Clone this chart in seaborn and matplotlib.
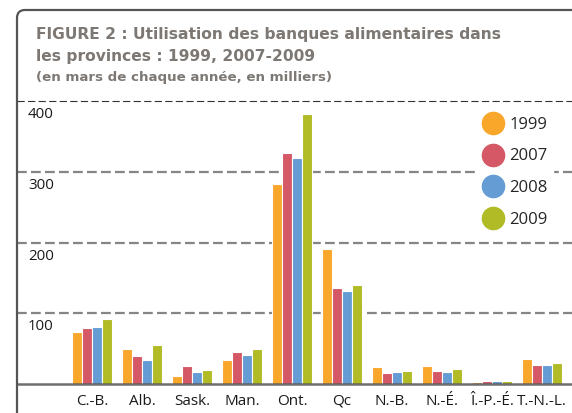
import matplotlib
matplotlib.use("Agg")
import matplotlib.pyplot as plt
from matplotlib.lines import Line2D
from matplotlib.path import Path
from matplotlib.patches import PathPatch
import seaborn as sns
import pandas as pd

provinces = ["C.-B.", "Alb.", "Sask.", "Man.", "Ont.", "Qc", "N.-B.", "N.-É.", "Î.-P.-É.", "T.-N.-L."]
years = ["1999", "2007", "2008", "2009"]
v1999 = [73.6, 50.0, 11.5, 34.4, 282.6, 190.8, 24.4, 25.8, 2.9, 35.9]
v2007 = [78.9, 40.0, 25.8, 45.9, 327.0, 136.0, 15.8, 18.6, 4.3, 27.3]
v2008 = [80.3, 34.4, 17.2, 41.6, 320.0, 131.0, 17.2, 17.2, 4.3, 27.3]
v2009 = [91.8, 54.5, 20.0, 48.8, 381.6, 140.6, 18.6, 21.5, 4.3, 30.1]
yticks = [100, 200, 300, 400]
colors = ["#F9A72A", "#D45866", "#659CD4", "#B0BB25"]

title1 = "FIGURE 2 : Utilisation des banques alimentaires dans"
title2 = "les provinces : 1999, 2007-2009"
subtitle = "(en mars de chaque année, en milliers)"

rows = []
for y, vals in zip(years, [v1999, v2007, v2008, v2009]):
    for p, v in zip(provinces, vals):
        rows.append({"province": p, "year": y, "value": v})
df = pd.DataFrame(rows)

sns.set_theme(style="white")
plt.rcParams["font.family"] = ["Open Sans", "DejaVu Sans"]

W, H = 572, 413
fig = plt.figure(figsize=(W / 100, H / 100), dpi=100)
ax = fig.add_axes([17 / W, (H - 384) / H, (W - 17) / W, (384 - 101) / H])

sns.barplot(data=df, x="province", y="value", hue="year", palette=colors,
            order=provinces, hue_order=years, width=0.8, ax=ax,
            edgecolor="white", linewidth=0.8, saturation=1, legend=False, zorder=2)

ax.set_xlim(-1.5, 9.6)
ax.set_ylim(0, 400)
for s in ax.spines.values():
    s.set_visible(False)
ax.set_xlabel("")
ax.set_ylabel("")
ax.set_yticks([])
ax.tick_params(axis="x", length=0, pad=7, labelsize=11, labelcolor="#1a1a1a")

for t in yticks:
    if t == 400:
        ax.axhline(t, color="#333333", lw=0.8, dashes=(6.5, 3), zorder=1, clip_on=False)
    else:
        ax.axhline(t, color="#858585", lw=1.6, dashes=(4.4, 1.9), zorder=1)
    ax.annotate(str(t), xy=(0.02, t), xycoords=("axes fraction", "data"),
                xytext=(0, -4.5), textcoords="offset points", va="top", ha="left",
                fontsize=10.8, color="#1a1a1a")
ax.axhline(0, color="#555555", lw=1.8, alpha=0.85, zorder=3, clip_on=False)

handles = [Line2D([0], [0], marker="o", linestyle="", markersize=16,
                  markerfacecolor=c, markeredgecolor=c) for c in colors]
leg = ax.legend(handles, years, loc="upper left", bbox_to_anchor=(0.812, 0.992),
                frameon=True, facecolor="white", edgecolor="white", framealpha=1,
                fontsize=12, handletextpad=0.3, labelspacing=0.95, borderpad=0.3,
                handlelength=1.4)
leg.set_zorder(5)

# frame with rounded corner
r = 8
x0, y0 = 17 / W, 1 - 10 / H
rx, ry = r / W, r / H
verts = [(x0, 0), (x0, y0 - ry), (x0, y0), (x0 + rx, y0), (1.0, y0)]
codes = [Path.MOVETO, Path.LINETO, Path.CURVE3, Path.CURVE3, Path.LINETO]
fig.add_artist(PathPatch(Path(verts, codes), transform=fig.transFigure,
                         fill=False, edgecolor="#555555", lw=1.6))

tc = "#7d7873"
tf = ["DejaVu Sans"]
fig.text(36 / W, 1 - 35 / H, title1, fontsize=11.2, fontweight="bold", color=tc, va="center", family=tf)
fig.text(36 / W, 1 - 57 / H, title2, fontsize=11.2, fontweight="bold", color=tc, va="center", family=tf)
fig.text(36 / W, 1 - 78 / H, subtitle, fontsize=9.6, fontweight="bold", color=tc, va="center", family=tf)

fig.savefig("out.png", dpi=100)
